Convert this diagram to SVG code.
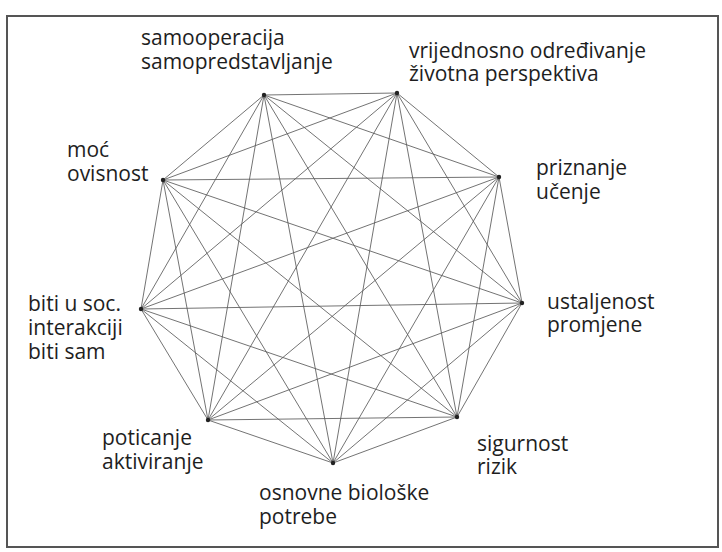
<svg xmlns="http://www.w3.org/2000/svg" width="722" height="552" viewBox="0 0 722 552">
<style>
.lbl{font-family:"Open Sans","Noto Sans","Liberation Sans",sans-serif;font-size:21px;fill:#1e1e1e}
.c line{stroke:#5a5a5a;stroke-width:0.85}
.dot{fill:#222}
</style>
<rect x="0" y="0" width="722" height="552" fill="#fff"/>
<rect x="7" y="16" width="711" height="531" fill="none" stroke="#555" stroke-width="2"/>
<g id="connectors" class="c">
<line x1="264" y1="95" x2="397" y2="93"/>
<line x1="264" y1="95" x2="499" y2="177"/>
<line x1="264" y1="95" x2="522" y2="303"/>
<line x1="264" y1="95" x2="457" y2="417"/>
<line x1="264" y1="95" x2="333" y2="463"/>
<line x1="264" y1="95" x2="208" y2="420"/>
<line x1="264" y1="95" x2="141" y2="309"/>
<line x1="264" y1="95" x2="163" y2="180"/>
<line x1="397" y1="93" x2="499" y2="177"/>
<line x1="397" y1="93" x2="522" y2="303"/>
<line x1="397" y1="93" x2="457" y2="417"/>
<line x1="397" y1="93" x2="333" y2="463"/>
<line x1="397" y1="93" x2="208" y2="420"/>
<line x1="397" y1="93" x2="141" y2="309"/>
<line x1="397" y1="93" x2="163" y2="180"/>
<line x1="499" y1="177" x2="522" y2="303"/>
<line x1="499" y1="177" x2="457" y2="417"/>
<line x1="499" y1="177" x2="333" y2="463"/>
<line x1="499" y1="177" x2="208" y2="420"/>
<line x1="499" y1="177" x2="141" y2="309"/>
<line x1="499" y1="177" x2="163" y2="180"/>
<line x1="522" y1="303" x2="457" y2="417"/>
<line x1="522" y1="303" x2="333" y2="463"/>
<line x1="522" y1="303" x2="208" y2="420"/>
<line x1="522" y1="303" x2="141" y2="309"/>
<line x1="522" y1="303" x2="163" y2="180"/>
<line x1="457" y1="417" x2="333" y2="463"/>
<line x1="457" y1="417" x2="208" y2="420"/>
<line x1="457" y1="417" x2="141" y2="309"/>
<line x1="457" y1="417" x2="163" y2="180"/>
<line x1="333" y1="463" x2="208" y2="420"/>
<line x1="333" y1="463" x2="141" y2="309"/>
<line x1="333" y1="463" x2="163" y2="180"/>
<line x1="208" y1="420" x2="141" y2="309"/>
<line x1="208" y1="420" x2="163" y2="180"/>
<line x1="141" y1="309" x2="163" y2="180"/>
</g>
<g id="n0"><circle class="dot" cx="264" cy="95" r="2.2"/><text class="lbl" x="141" y="45">samooperacija<tspan x="141" dy="24">samopredstavljanje</tspan></text></g>
<g id="n1"><circle class="dot" cx="397" cy="93" r="2.2"/><text class="lbl" x="409" y="58">vrijednosno određivanje<tspan x="409" dy="23">životna perspektiva</tspan></text></g>
<g id="n2"><circle class="dot" cx="499" cy="177" r="2.2"/><text class="lbl" x="536" y="175">priznanje<tspan x="536" dy="24">učenje</tspan></text></g>
<g id="n3"><circle class="dot" cx="522" cy="303" r="2.2"/><text class="lbl" x="547" y="309">ustaljenost<tspan x="547" dy="23">promjene</tspan></text></g>
<g id="n4"><circle class="dot" cx="457" cy="417" r="2.2"/><text class="lbl" x="477" y="451">sigurnost<tspan x="477" dy="23">rizik</tspan></text></g>
<g id="n5"><circle class="dot" cx="333" cy="463" r="2.2"/><text class="lbl" x="259" y="500">osnovne biološke<tspan x="259" dy="24">potrebe</tspan></text></g>
<g id="n6"><circle class="dot" cx="208" cy="420" r="2.2"/><text class="lbl" x="102" y="445">poticanje<tspan x="102" dy="24">aktiviranje</tspan></text></g>
<g id="n7"><circle class="dot" cx="141" cy="309" r="2.2"/><text class="lbl" x="28" y="311">biti u soc.<tspan x="28" dy="24">interakciji</tspan><tspan x="28" dy="24">biti sam</tspan></text></g>
<g id="n8"><circle class="dot" cx="163" cy="180" r="2.2"/><text class="lbl" x="67" y="157">moć<tspan x="67" dy="24">ovisnost</tspan></text></g>
</svg>
